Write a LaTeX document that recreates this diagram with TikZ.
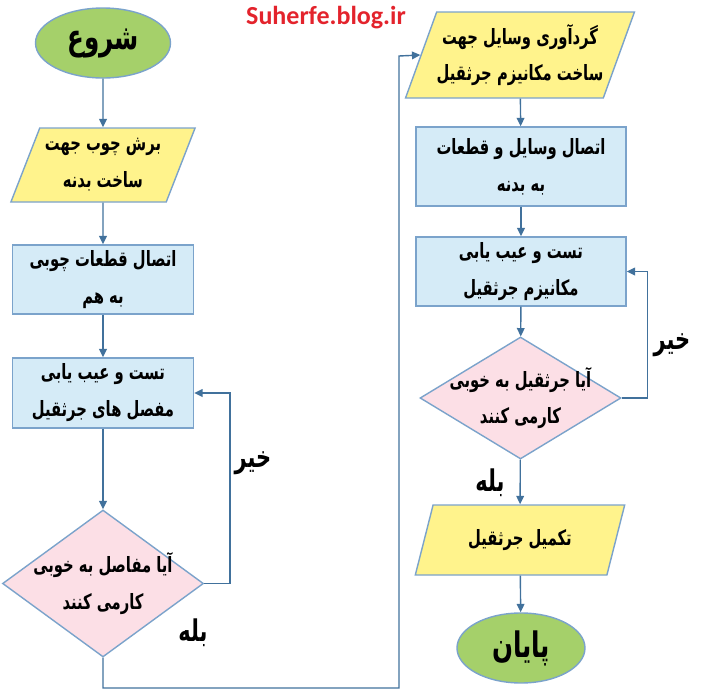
\documentclass[tikz,border=0pt]{standalone}
\usepackage{fontspec}
\usetikzlibrary{shapes.geometric,arrows.meta}
\TeXXeTstate=1
\newfontfamily\arabicfont[Script=Arabic,BoldFont={DejaVu Sans Bold},FakeStretch=0.7]{DejaVu Sans}
\newfontfamily\sitefont{Carlito}
\newcommand{\fa}[1]{\beginR #1\endR}
\definecolor{linkblue}{HTML}{41719C}
\definecolor{edgeblue}{HTML}{7BA3CB}
\definecolor{endgreen}{HTML}{A5D06A}
\definecolor{ioyellow}{HTML}{FFF38C}
\definecolor{stepblue}{HTML}{D5EBF7}
\definecolor{askpink}{HTML}{FCDFE6}
\definecolor{sitered}{HTML}{E3232C}
\begin{document}
\begin{tikzpicture}[
  every node/.style={font=\arabicfont\bfseries\fontsize{6}{10.5}\selectfont, align=center, inner sep=0pt},
  terminal/.style={ellipse, draw=edgeblue, fill=endgreen, line width=0.4pt, font=\arabicfont\bfseries\fontsize{10}{11}\selectfont},
  iobox/.style={trapezium, trapezium left angle=63.4, trapezium right angle=116.6, trapezium stretches=true, draw=edgeblue, fill=ioyellow, line width=0.4pt},
  stepbox/.style={rectangle, draw=edgeblue, fill=stepblue, line width=0.4pt},
  askbox/.style={diamond, draw=edgeblue, fill=askpink, line width=0.4pt},
  answer/.style={font=\arabicfont\bfseries\fontsize{8.5}{10}\selectfont},
  link/.style={draw=linkblue, line width=0.4pt, -{Triangle[length=2.4pt,width=2.2pt]}}
]
\useasboundingbox (0,0) rectangle (7.06,-6.98);
\node[font=\sitefont\bfseries\fontsize{7.4}{9}\selectfont, text=sitered] (site) at (3.26,-0.18) {Suherfe.blog.ir};
\node[terminal, minimum width=1.35cm, minimum height=0.70cm] (start) at (1.03,-0.43) {\fa{شروع}};
\node[iobox, minimum width=1.85cm, minimum height=0.74cm] (cut) at (1.03,-1.65) {\fa{برش چوب جهت}\\\fa{ساخت بدنه}};
\node[stepbox, minimum width=1.81cm, minimum height=0.69cm] (join) at (1.03,-2.795) {\fa{اتصال قطعات چوبی}\\\fa{به هم}};
\node[stepbox, minimum width=1.81cm, minimum height=0.70cm] (testa) at (1.03,-3.93) {\fa{تست و عیب یابی}\\\fa{مفصل های جرثقیل}};
\node[askbox, minimum width=2.01cm, minimum height=1.47cm, label=center:{\beginR آیا مفاصل به خوبی\endR\\\beginR کارمی کنند\endR}] (aska) at (1.03,-5.835) {};
\node[iobox, minimum width=2.20cm, minimum height=0.86cm] (gather) at (5.20,-0.55) {\fa{گردآوری وسایل جهت}\\\fa{ساخت مکانیزم جرثقیل}};
\node[stepbox, minimum width=2.10cm, minimum height=0.79cm] (mount) at (5.21,-1.665) {\fa{اتصال وسایل و قطعات}\\\fa{به بدنه}};
\node[stepbox, minimum width=2.10cm, minimum height=0.69cm] (testb) at (5.21,-2.715) {\fa{تست و عیب یابی}\\\fa{مکانیزم جرثقیل}};
\node[askbox, minimum width=2.01cm, minimum height=1.22cm, label=center:{\beginR آیا جرثقیل به خوبی\endR\\\beginR کارمی کنند\endR}] (askb) at (5.205,-3.98) {};
\node[iobox, minimum width=2.10cm, minimum height=0.70cm] (finish) at (5.20,-5.40) {\fa{تکمیل جرثقیل}};
\node[terminal, minimum width=1.28cm, minimum height=0.70cm] (stop) at (5.21,-6.48) {\fa{پایان}};
\node[answer] (noa) at (2.53,-4.63) {\fa{خیر}};
\node[answer] (yesa) at (1.93,-6.33) {\fa{بله}};
\node[answer] (nob) at (6.72,-3.45) {\fa{خیر}};
\node[answer] (yesb) at (4.90,-4.83) {\fa{بله}};
\coordinate (low) at (3.99,-6.88);
\coordinate (high) at (3.99,-0.56);
\draw[link] (start) -- (cut);
\draw[link] (cut) -- (join);
\draw[link] (join) -- (testa);
\draw[link] (testa) -- (aska);
\draw[link] (aska.east) -- ++(0.26,0) |- (testa.east);
\draw[link] (aska.south) |- (low) -- (high) -- (gather.west);
\draw[link] (gather) -- (mount);
\draw[link] (mount) -- (testb);
\draw[link] (testb) -- (askb);
\draw[link] (askb.east) -- ++(0.26,0) |- (testb.east);
\draw[link] (askb) -- (finish);
\draw[link] (finish) -- (stop);
\end{tikzpicture}
\end{document}
